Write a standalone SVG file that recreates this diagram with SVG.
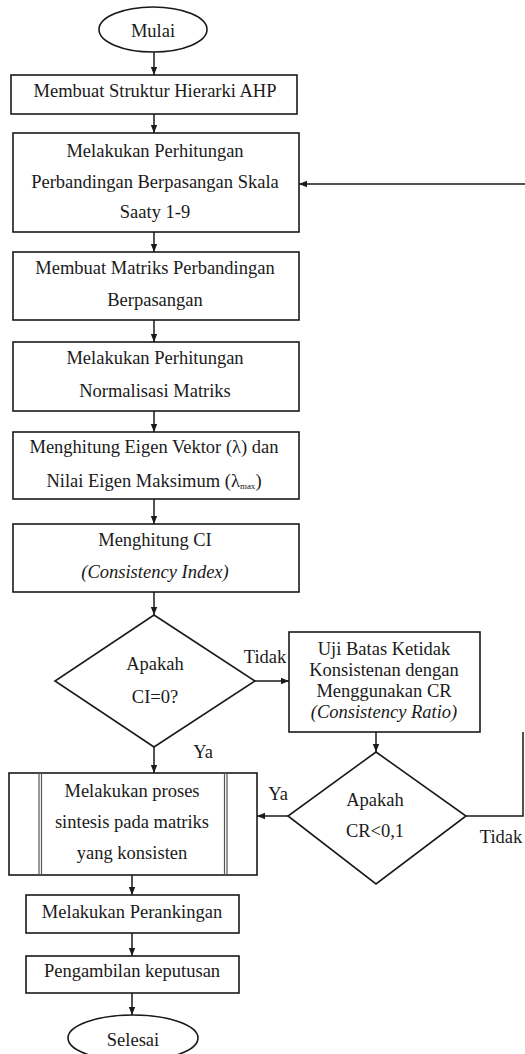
<svg xmlns="http://www.w3.org/2000/svg" width="525" height="1054" viewBox="0 0 525 1054" font-family="'Liberation Serif', 'Times New Roman', 'DejaVu Serif', serif">
<style>
.n{fill:#fff;stroke:#1a1a1a;stroke-width:1.6}
.t{font-family:'Liberation Serif','Times New Roman','DejaVu Serif',serif;font-size:18.5px;fill:#1a1a1a;text-anchor:middle}
.i{font-style:italic}
.c{fill:none;stroke:#1a1a1a;stroke-width:1.5}
.d{fill:none;stroke:#555;stroke-width:1.2}
</style>
<defs>
<marker id="ah" markerUnits="userSpaceOnUse" markerWidth="8" markerHeight="8" viewBox="0 0 8 8" refX="8" refY="4" orient="auto">
<path d="M0,0.8 L8,4 L0,7.2 Z" fill="#1a1a1a"/>
</marker>
</defs>
<rect width="525" height="1054" fill="#fff"/>
<g id="connectors">
<line class="c" x1="154" y1="52" x2="154" y2="75" marker-end="url(#ah)"/>
<line class="c" x1="154" y1="114" x2="154" y2="133" marker-end="url(#ah)"/>
<line class="c" x1="154" y1="232" x2="154" y2="252" marker-end="url(#ah)"/>
<line class="c" x1="154" y1="320" x2="154" y2="342" marker-end="url(#ah)"/>
<line class="c" x1="154" y1="411" x2="154" y2="432" marker-end="url(#ah)"/>
<line class="c" x1="154" y1="499" x2="154" y2="524" marker-end="url(#ah)"/>
<line class="c" x1="154" y1="592" x2="154" y2="615" marker-end="url(#ah)"/>
<line class="c" x1="255" y1="681" x2="289" y2="681" marker-end="url(#ah)"/>
<line class="c" x1="376" y1="732" x2="376" y2="752" marker-end="url(#ah)"/>
<line class="c" x1="154" y1="747" x2="154" y2="773" marker-end="url(#ah)"/>
<line class="c" x1="288" y1="816" x2="257" y2="816" marker-end="url(#ah)"/>
<polyline class="c" points="466,816 523,816 523,732"/>
<line class="c" x1="525" y1="184" x2="299" y2="184" marker-end="url(#ah)"/>
<line class="c" x1="132" y1="875" x2="132" y2="895" marker-end="url(#ah)"/>
<line class="c" x1="132" y1="933" x2="132" y2="956" marker-end="url(#ah)"/>
<line class="c" x1="132" y1="993" x2="132" y2="1015" marker-end="url(#ah)"/>
<text class="t" x="265" y="663">Tidak</text>
<text class="t" x="203" y="758">Ya</text>
<text class="t" x="278" y="800">Ya</text>
<text class="t" x="501" y="843">Tidak</text>
</g>
<g id="mulai">
<ellipse class="n" cx="153" cy="29.5" rx="54" ry="22.5"/>
<text class="t" x="153" y="36.5">Mulai</text>
</g>
<g id="struktur">
<rect class="n" x="11" y="75" width="286" height="39"/>
<text class="t" x="155" y="97">Membuat Struktur Hierarki AHP</text>
</g>
<g id="perhitungan-saaty">
<rect class="n" x="13" y="133" width="286" height="99"/>
<text class="t" x="155" y="157">Melakukan Perhitungan</text>
<text class="t" x="155" y="188">Perbandingan Berpasangan Skala</text>
<text class="t" x="155" y="218">Saaty 1-9</text>
</g>
<g id="matriks">
<rect class="n" x="13" y="252" width="286" height="68"/>
<text class="t" x="155" y="274">Membuat Matriks Perbandingan</text>
<text class="t" x="155" y="306">Berpasangan</text>
</g>
<g id="normalisasi">
<rect class="n" x="13" y="342" width="286" height="69"/>
<text class="t" x="155" y="364">Melakukan Perhitungan</text>
<text class="t" x="155" y="397">Normalisasi Matriks</text>
</g>
<g id="eigen">
<rect class="n" x="13" y="432" width="286" height="67"/>
<text class="t" x="154" y="453">Menghitung Eigen Vektor (λ) dan</text>
<text class="t" x="154" y="487">Nilai Eigen Maksimum (λ<tspan font-size="9" dy="2">max</tspan><tspan dy="-2">)</tspan></text>
</g>
<g id="ci">
<rect class="n" x="13" y="524" width="286" height="68"/>
<text class="t" x="155" y="546">Menghitung CI</text>
<text class="t i" x="155" y="578">(Consistency Index)</text>
</g>
<g id="cek-ci">
<polygon class="n" points="154,615 255,681 154,747 55,681"/>
<text class="t" x="155" y="670">Apakah</text>
<text class="t" x="155" y="703">CI=0?</text>
</g>
<g id="uji-cr">
<rect class="n" x="289" y="632" width="191" height="100"/>
<text class="t" x="384" y="655">Uji Batas Ketidak</text>
<text class="t" x="384" y="676">Konsistenan dengan</text>
<text class="t" x="384" y="697">Menggunakan CR</text>
<text class="t i" x="384" y="718">(Consistency Ratio)</text>
</g>
<g id="cek-cr">
<polygon class="n" points="376,752 466,816 376,884 288,816"/>
<text class="t" x="375" y="806">Apakah</text>
<text class="t" x="375" y="837">CR&lt;0,1</text>
</g>
<g id="sintesis">
<rect class="n" x="9" y="773" width="248" height="102"/>
<line class="d" x1="39" y1="773" x2="39" y2="875"/>
<line class="d" x1="41.5" y1="773" x2="41.5" y2="875"/>
<line class="d" x1="224.5" y1="773" x2="224.5" y2="875"/>
<line class="d" x1="227" y1="773" x2="227" y2="875"/>
<text class="t" x="132" y="797">Melakukan proses</text>
<text class="t" x="132" y="828">sintesis pada matriks</text>
<text class="t" x="132" y="859">yang konsisten</text>
</g>
<g id="perankingan">
<rect class="n" x="26" y="895" width="213" height="38"/>
<text class="t" x="132" y="918">Melakukan Perankingan</text>
</g>
<g id="keputusan">
<rect class="n" x="26" y="956" width="213" height="37"/>
<text class="t" x="132" y="977">Pengambilan keputusan</text>
</g>
<g id="selesai">
<ellipse class="n" cx="133" cy="1038" rx="65" ry="23"/>
<text class="t" x="133" y="1046">Selesai</text>
</g>
</svg>
